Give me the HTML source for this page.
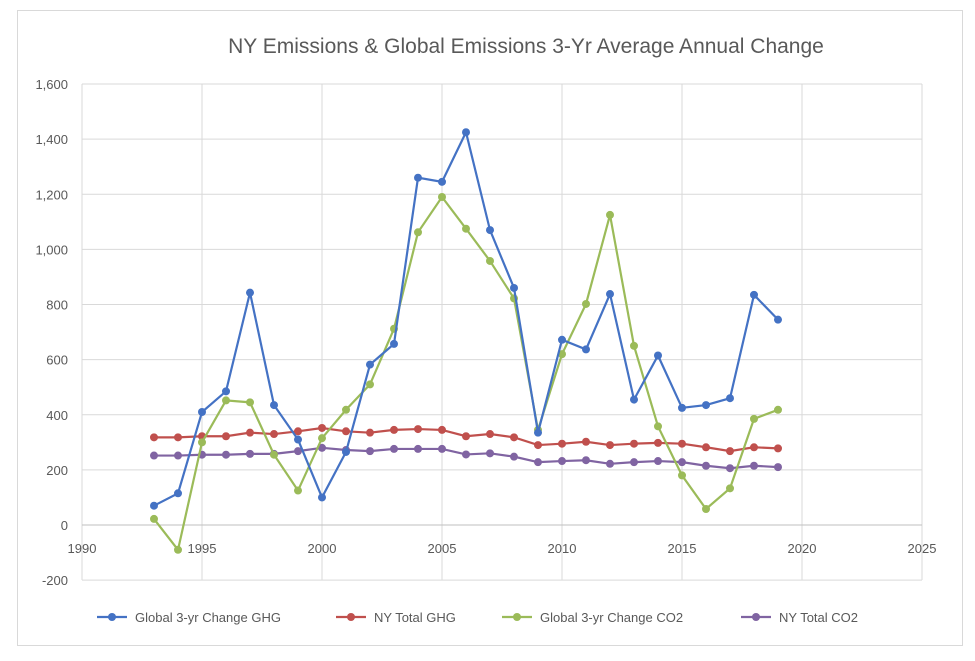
<!DOCTYPE html>
<html><head><meta charset="utf-8"><style>
body{margin:0;background:#fff;}
svg{display:block;font-family:"Liberation Sans",sans-serif;}
</style></head><body>
<svg id="c" width="975" height="661" viewBox="0 0 975 661"></svg>
<script>
const s=document.getElementById('c');
let h='<rect x="0" y="0" width="975" height="661" fill="#fff"/>';
h+='<rect x="17.5" y="10.5" width="945" height="635" fill="none" stroke="#d9d9d9"/>';
const X=y=>82+(y-1990)*24, Y=v=>525-v*0.275625;
for(let v=-200;v<=1600;v+=200){const y=Y(v);h+=`<line x1="82" x2="922" y1="${y}" y2="${y}" stroke="#d9d9d9"/>`;
h+=`<text x="68" y="${y+5}" text-anchor="end" font-size="13" fill="#595959">${v<0?'-'+(-v):v.toLocaleString('en-US')}</text>`;}
for(let yr=1990;yr<=2025;yr+=5){const x=X(yr);h+=`<line x1="${x}" x2="${x}" y1="84" y2="580" stroke="#d9d9d9"/>`;
h+=`<text x="${x}" y="553" text-anchor="middle" font-size="13" fill="#595959">${yr}</text>`;}
h+=`<line x1="82" x2="922" y1="${Y(0)}" y2="${Y(0)}" stroke="#bfbfbf"/>`;
h+='<text x="526" y="53" text-anchor="middle" font-size="21" fill="#595959">NY Emissions &amp; Global Emissions 3-Yr Average Annual Change</text>';
const D=[
["#C0504D",[318,318,322,322,335,330,340,352,340,335,345,348,345,322,330,318,290,295,302,290,295,298,295,282,268,282,278]],
["#8064A2",[252,252,255,255,258,258,268,280,272,268,276,276,276,256,260,248,228,232,235,222,228,232,228,215,206,215,210]],
["#9BBB59",[22,-90,300,452,445,255,125,315,418,510,712,1062,1190,1075,958,822,345,620,802,1125,650,358,180,58,133,385,418]],
["#4472C4",[70,115,410,485,843,435,310,100,265,582,657,1260,1245,1425,1070,860,335,672,637,838,455,615,425,435,460,835,745]]];
for(const [c,d] of D){const p=d.map((v,i)=>X(1993+i)+','+Y(v)).join(' ');
h+=`<polyline points="${p}" fill="none" stroke="${c}" stroke-width="2.2"/>`;
d.forEach((v,i)=>h+=`<circle cx="${X(1993+i)}" cy="${Y(v)}" r="4" fill="${c}"/>`);}
const L=[["#4472C4","Global 3-yr Change GHG",97],["#C0504D","NY Total GHG",336],["#9BBB59","Global 3-yr Change CO2",502],["#8064A2","NY Total CO2",741]];
for(const [c,t,x] of L){h+=`<line x1="${x}" x2="${x+30}" y1="617" y2="617" stroke="${c}" stroke-width="2.2"/><circle cx="${x+15}" cy="617" r="4" fill="${c}"/>`;
h+=`<text x="${x+38}" y="622" font-size="13" fill="#595959">${t}</text>`;}
s.innerHTML=h;
</script>
</body></html>
